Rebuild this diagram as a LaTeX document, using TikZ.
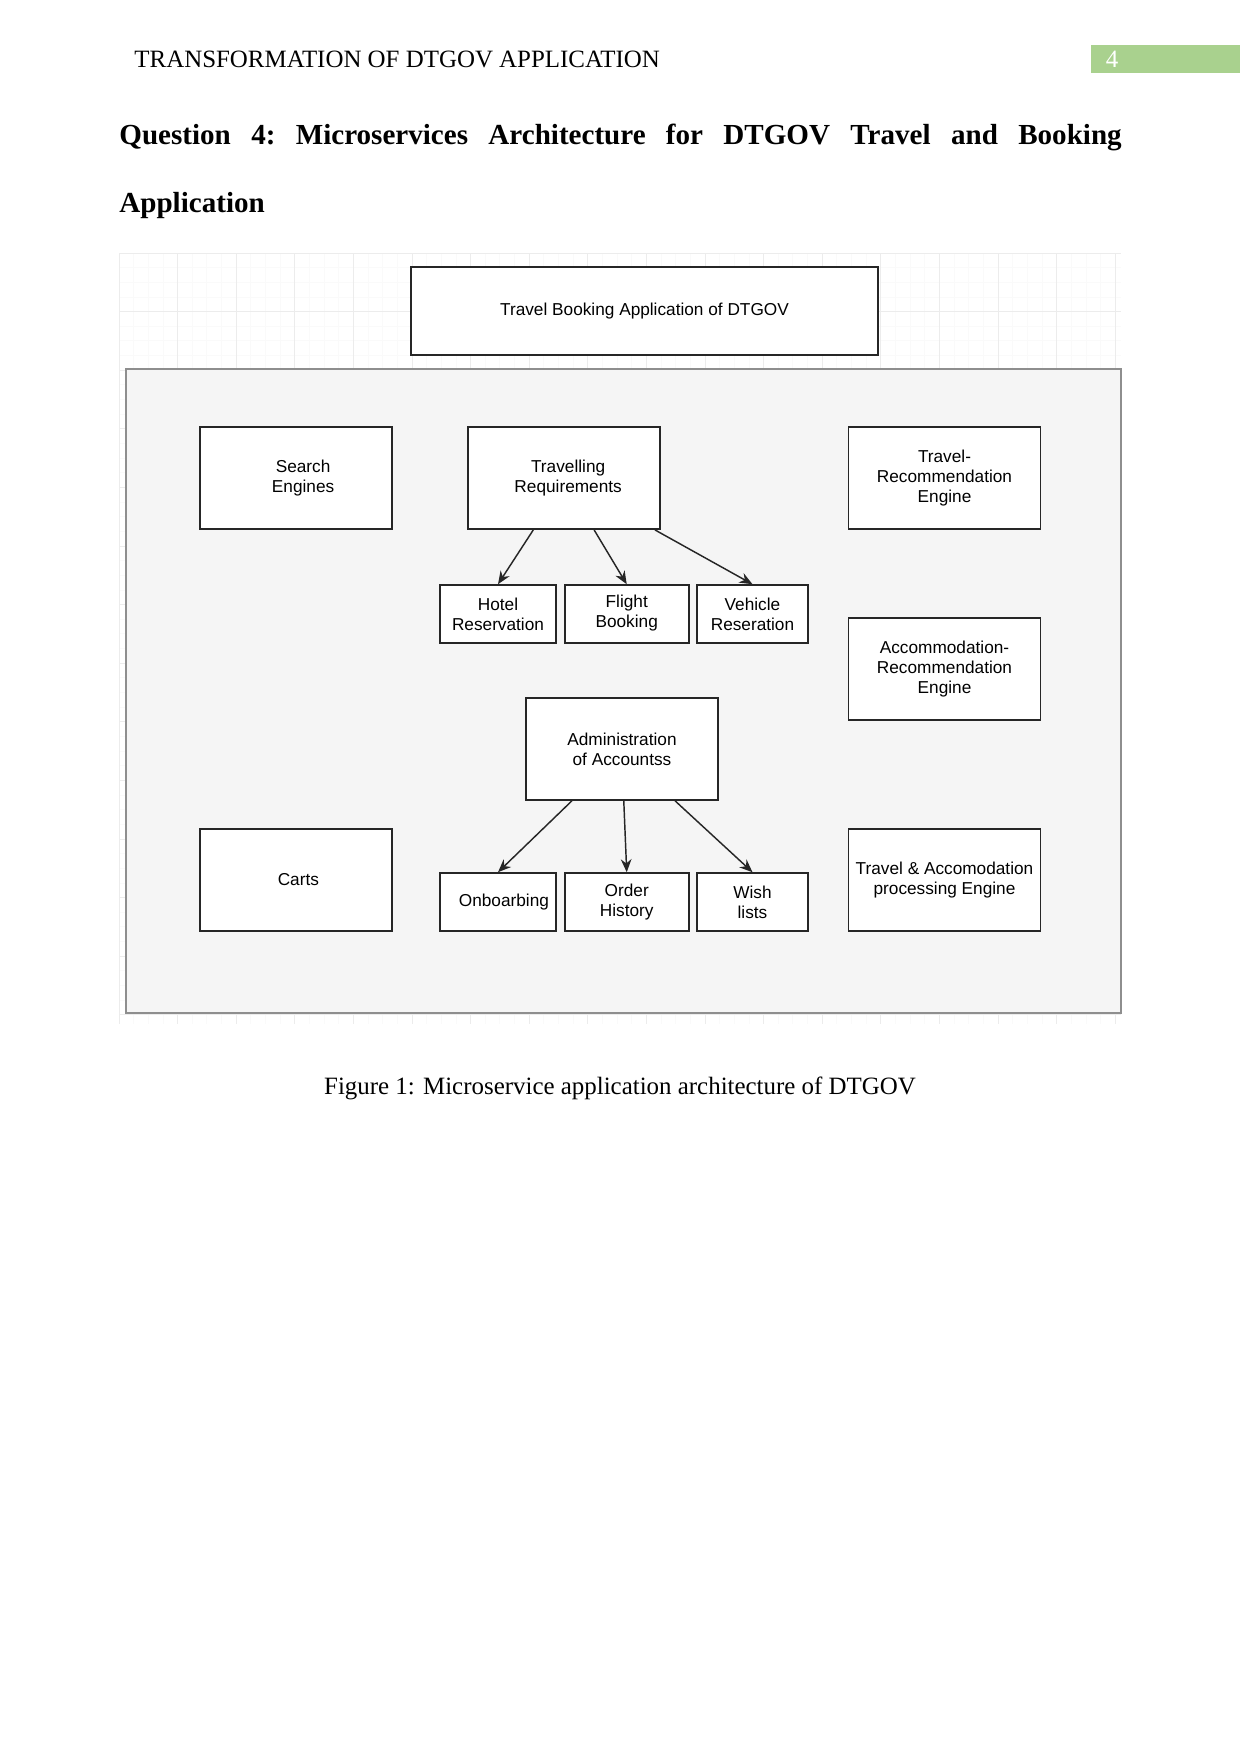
\documentclass[tikz,border=0pt]{standalone}
\usepackage{fontspec}
\setmainfont{Liberation Serif}
\newfontfamily\drawfont{Liberation Sans}
\usetikzlibrary{arrows.meta, positioning}
\definecolor{colorPanel}{HTML}{F5F5F5}
\definecolor{borderPanel}{HTML}{8E8E8E}
\definecolor{pageGreen}{HTML}{A9D18E}
\definecolor{gridMajor}{HTML}{ECECEC}
\definecolor{gridMinor}{HTML}{FAFAFA}

\begin{document}
\begin{tikzpicture}[x=0.16922mm, y=-0.16922mm,
        svc/.style={draw=black!85, fill=white, line width=0.8pt, minimum width=32.5mm,
            minimum height=17.3mm, align=center, inner sep=1pt,
            font=\drawfont\fontsize{8.3}{9.7}\selectfont},
        sub/.style={svc, minimum width=19.6mm, minimum height=9.8mm},
        rel/.style={-{Stealth[length=2.2mm, width=1.8mm]}, line width=0.7pt, black!85}
    ]
    \useasboundingbox (0,0) rectangle (1241,1754);
    % page header and heading
    \node[anchor=base west, inner sep=0pt, font=\fontsize{12}{14}\selectfont] (header) at (134,68) {TRANSFORMATION OF DTGOV APPLICATION};
    \node[fill=pageGreen, inner sep=0pt, minimum width=25.2mm, minimum height=4.7mm, anchor=north west] (pageTab) at (1091,45) {};
    \node[anchor=base, inner sep=0pt, text=white, font=\fontsize{12}{14}\selectfont] (pageNum) at (1112,68) {4};
    \node[anchor=base west, inner sep=0pt, text width=169.6mm, align=left, font=\bfseries\fontsize{14}{17}\selectfont] (title) at (119,145)
        {Question\hfill 4:\hfill Microservices\hfill Architecture\hfill for\hfill DTGOV\hfill Travel\hfill and\hfill Booking};
    \node[anchor=base west, inner sep=0pt, font=\bfseries\fontsize{14}{17}\selectfont] (titleRest) at (119,213) {Application};
    % drawing grid
    \foreach \gx in {0,...,68} \draw[gridMinor] (119+\gx*14.65,253) -- (119+\gx*14.65,1024);
    \foreach \gy in {0,...,52} \draw[gridMinor] (119,253+\gy*14.65) -- (1121,253+\gy*14.65);
    \foreach \gx in {0,...,17} \draw[gridMajor] (119+\gx*58.6,253) -- (119+\gx*58.6,1024);
    \foreach \gy in {0,...,13} \draw[gridMajor] (119,253+\gy*58.6) -- (1121,253+\gy*58.6);
    \node[svc, minimum width=79mm, minimum height=14.9mm] (app) at (644.5,311) {Travel Booking Application of DTGOV};
    \draw[fill=colorPanel, draw=borderPanel, line width=0.6pt] (126,369) rectangle (1121,1013);
    % services
    \node[svc] (search) at (296,478) {\hspace*{2.4mm}Search\\\hspace*{2.4mm}Engines};
    \node[svc] (travel) at (564,478) {\hspace*{1.4mm}Travelling\\\hspace*{1.4mm}Requirements};
    \node[svc] (travelRec) at (944.5,478) {Travel-\\Recommendation\\Engine};
    \node[sub] (hotel) at (498,614) {Hotel\\Reservation};
    \node[sub, minimum width=21mm, right=1.2mm of hotel] (flight) {Flight\\Booking\strut};
    \node[sub, minimum width=18.8mm, right=1.1mm of flight] (vehicle) {Vehicle\\Reseration};
    \node[svc] (accRec) at (944.5,669) {Accommodation-\\Recommendation\\Engine};
    \node[svc] (admin) at (622,749) {Administration\\of Accountss};
    \node[svc] (carts) at (296,880) {\hspace*{0.8mm}Carts};
    \node[sub] (onboard) at (498,902) {\hspace*{2mm}Onboarbing};
    \node[sub, minimum width=21mm, right=1.2mm of onboard] (order) {Order\\History};
    \node[sub, minimum width=18.8mm, right=1.1mm of order] (wish) {Wish\\lists};
    \node[svc] (engine) at (944.5,880) {Travel \& Accomodation\\processing Engine};
    \draw[rel] ([xshift=-5.2mm]travel.south) -- (hotel.north);
    \draw[rel] ([xshift=5.1mm]travel.south) -- (flight.north);
    \draw[rel] ([xshift=15.4mm]travel.south) -- (vehicle.north);
    \draw[rel] ([xshift=-8.5mm]admin.south) -- (onboard.north);
    \draw[rel] ([xshift=0.3mm]admin.south) -- (order.north);
    \draw[rel] ([xshift=9mm]admin.south) -- (wish.north);
    % caption
    \node[anchor=base, font=\fontsize{12}{14}\selectfont] (caption) at (620,1094) {Figure 1: Microservice application architecture of DTGOV};
\end{tikzpicture}
\end{document}
